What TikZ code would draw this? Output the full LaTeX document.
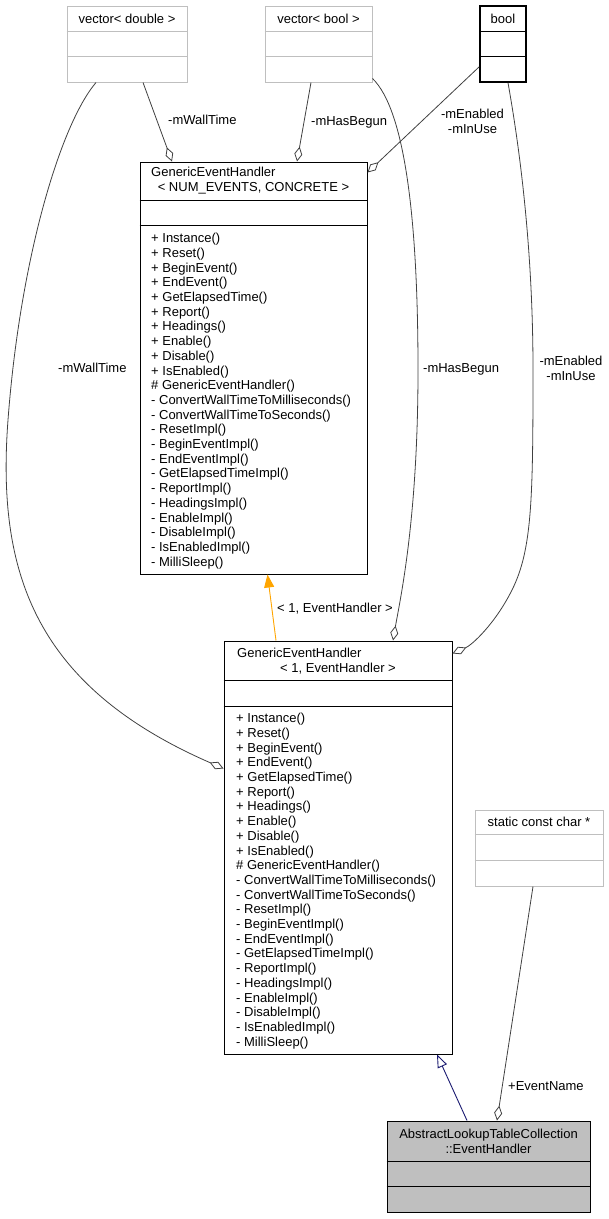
\documentclass[tikz,border=0pt]{standalone}
\usepackage{fontspec}
\setmainfont{Liberation Sans}
\usepackage{tikz}
\usetikzlibrary{arrows.meta}
\definecolor{edgegray}{RGB}{64,64,64}
\definecolor{boxgray}{RGB}{191,191,191}
\definecolor{inhnavy}{RGB}{25,25,112}
\definecolor{inhorange}{RGB}{255,165,0}
\tikzset{
  cls/.style={draw=black, line width=1pt, fill=white, inner sep=0pt},
  extcls/.style={cls, draw=boxgray},
  txt/.style={inner sep=0pt, align=center},
  agg/.style={draw=edgegray, line width=0.8pt, -{Diamond[fill=white, length=15pt, width=8pt]}},
  inhfill/.style={draw=inhorange, line width=0.9pt, -{Triangle[length=13pt, width=10pt]}},
  inhopen/.style={draw=inhnavy, line width=0.9pt, -{Triangle[fill=white, length=13pt, width=10pt]}},
}

\begin{document}
\begin{tikzpicture}[x=1pt, y=-1pt, font=\fontsize{13}{14.7}\selectfont]
    \useasboundingbox (0,0) rectangle (609,1219);

    % classes
    \node[extcls, minimum width=120, minimum height=76] (vd) at (127,44) {};
    \node[extcls, minimum width=107, minimum height=76] (vb) at (318.5,44) {};
    \node[cls, line width=1.6pt, minimum width=46, minimum height=76] (bl) at (503,44) {};
    \node[cls, minimum width=227, minimum height=412] (geh) at (253.5,368) {};
    \node[cls, minimum width=228, minimum height=413] (gehone) at (338,847.5) {};
    \node[extcls, minimum width=128, minimum height=76] (scc) at (539,848) {};
    \node[cls, fill=boxgray, minimum width=203, minimum height=91] (evh) at (488.5,1166.5) {};

    \foreach \n/\a/\b/\c in {vd/26/51/boxgray, vb/26/51/boxgray, bl/26/51/black, geh/39/64/black,
                             gehone/40/66/black, scc/25/51/boxgray, evh/41/66/black}{
      \draw[\c, line width=1pt] ([shift={(0,\a)}]\n.north west) -- ([shift={(0,\a)}]\n.north east);
      \draw[\c, line width=1pt] ([shift={(0,\b)}]\n.north west) -- ([shift={(0,\b)}]\n.north east);
    }

    \node[txt, anchor=base] (vdname) at (127,23.5) {vector< double >};
    \node[txt, anchor=base] (vbname) at (318.5,23.5) {vector< bool >};
    \node[txt, anchor=base] (blname) at (503,23.5) {bool};
    \node[txt, anchor=base west] (gehname) at (151,176) {GenericEventHandler};
    \node[txt, anchor=base] (gehargs) at (253.5,191) {< NUM\_EVENTS, CONCRETE >};
    \node[txt, anchor=base west] (gehonename) at (237,657.5) {GenericEventHandler};
    \node[txt, anchor=base] (gehoneargs) at (338,672.5) {< 1, EventHandler >};
    \node[txt, anchor=base] (sccname) at (539,826) {static const char *};
    \node[txt] (evhname) at (488.5,1141) {AbstractLookupTableCollection\\::EventHandler};

    \foreach \m [count=\i from 0] in {+ Instance(), + Reset(), + BeginEvent(), + EndEvent(),
        + GetElapsedTime(), + Report(), + Headings(), + Enable(), + Disable(), + IsEnabled(),
        \# GenericEventHandler(), - ConvertWallTimeToMilliseconds(), - ConvertWallTimeToSeconds(),
        - ResetImpl(), - BeginEventImpl(), - EndEventImpl(), - GetElapsedTimeImpl(), - ReportImpl(),
        - HeadingsImpl(), - EnableImpl(), - DisableImpl(), - IsEnabledImpl(), - MilliSleep()}{
      \node[txt, anchor=base west] (ma\i) at (151,242.7+\i*14.7) {\m};
      \node[txt, anchor=base west] (mb\i) at (236,722.7+\i*14.7) {\m};
    }

    % members
    \draw[agg] ([shift={(16,0)}]vd.south) -- ([shift={(-81.5,0)}]geh.north);
    \draw[agg] ([shift={(-31,0)}]vd.south) .. controls (60,125) and (20,260) .. (8,420)
      .. controls (-3.4,571.4) and (34,686) .. ([shift={(0,128)}]gehone.north west);
    \draw[agg] ([shift={(-7.5,0)}]vb.south) -- ([shift={(43.5,0)}]geh.north);
    \draw[agg] ([shift={(0,-4)}]vb.south east) .. controls (405,110) and (418,220) .. (418,370)
      .. controls (418,520) and (400,600) .. ([shift={(55,0)}]gehone.north);
    \draw[agg] ([shift={(0,-16)}]bl.south west) -- ([shift={(0,11)}]geh.north east);
    \draw[agg] ([shift={(5,0)}]bl.south) .. controls (520,150) and (533,250) .. (533,370)
      .. controls (533,500) and (532,550) .. (512,590)
      .. controls (495,624) and (472,645) .. ([shift={(0,13)}]gehone.north east);
    \draw[agg] ([shift={(-6,0)}]scc.south) -- ([shift={(8.5,0)}]evh.north);

    % inheritance
    \draw[inhfill] ([shift={(-62,0)}]gehone.north) -- ([shift={(14,0)}]geh.south);
    \draw[inhopen] ([shift={(-21.5,0)}]evh.north) -- ([shift={(99,0)}]gehone.south);

    \node[txt, anchor=base west] (wall1) at (168,124.7) {-mWallTime};
    \node[txt, anchor=base west] (begun1) at (311,125.5) {-mHasBegun};
    \node[txt] (enab1) at (472.5,121) {-mEnabled\\-mInUse};
    \node[txt, anchor=base west] (wall2) at (58,372.7) {-mWallTime};
    \node[txt, anchor=base west] (begun2) at (423,372.5) {-mHasBegun};
    \node[txt] (enab2) at (571,368.5) {-mEnabled\\-mInUse};
    \node[txt, anchor=base west] (tmpl) at (277,612.5) {< 1, EventHandler >};
    \node[txt, anchor=base west] (ename) at (508,1090.7) {+EventName};
\end{tikzpicture}
\end{document}
